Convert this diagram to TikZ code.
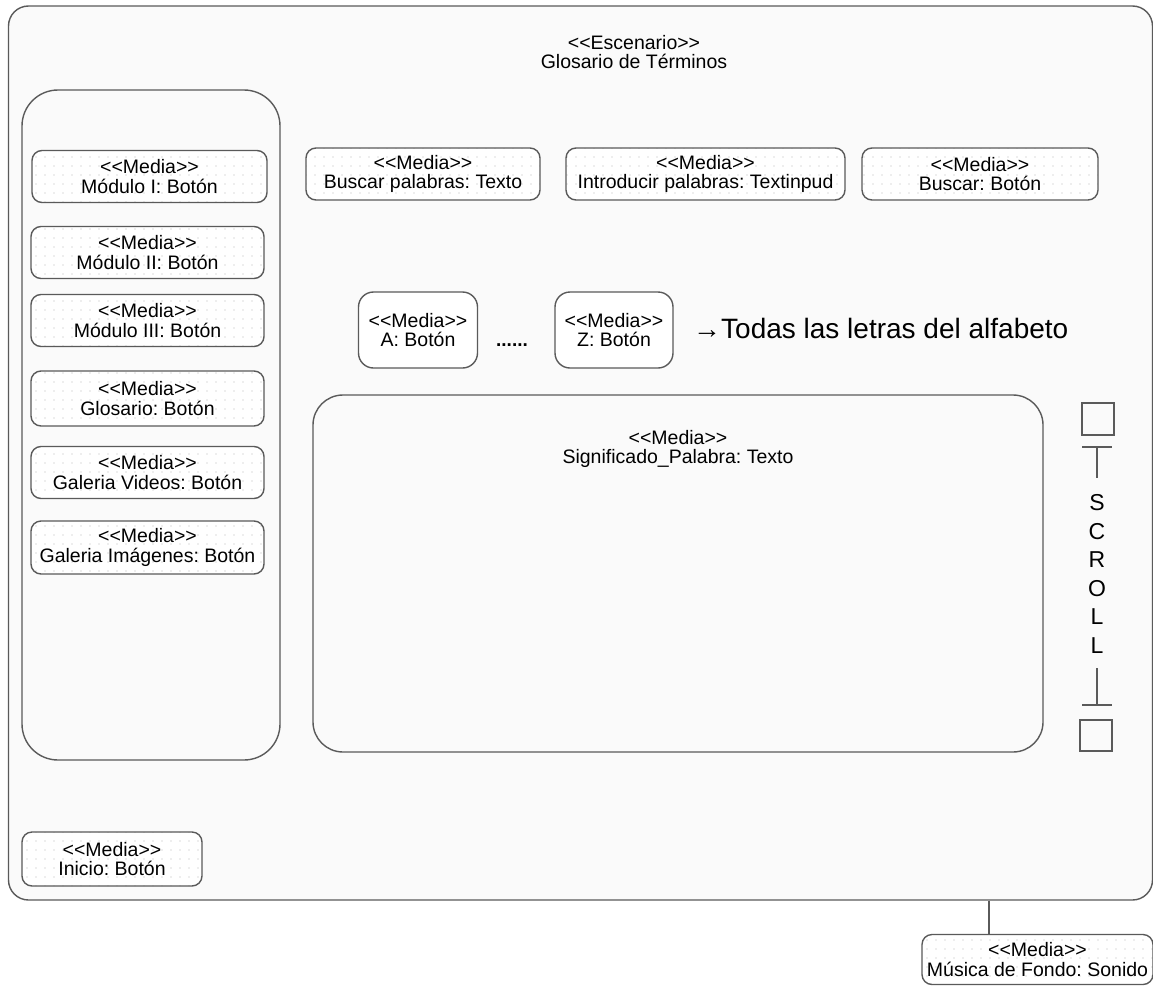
\documentclass[tikz,border=0pt]{standalone}
\usepackage{fontspec}
\setmainfont{Liberation Sans}[Ligatures=TeXOff]
\usetikzlibrary{patterns.meta}
\definecolor{edge}{HTML}{5A5A5A}
\definecolor{paper}{HTML}{FAFAFA}
\definecolor{dotc}{HTML}{B8B8B8}
\frenchspacing
\begin{document}
\begin{tikzpicture}[x=1pt,y=-1pt,
  every node/.style={inner sep=0pt,align=center,font=\fontsize{19.5}{19.5}\selectfont},
  panel/.style={draw=edge,line width=1.4pt,fill=paper},
  media/.style={draw=edge,line width=1.4pt,rounded corners=10pt,
    preaction={fill=white},
    pattern={Dots[distance=9pt,radius=0.55pt]},pattern color=dotc,
    minimum height=52pt},
  letterbtn/.style={draw=edge,line width=1.4pt,rounded corners=15pt,fill=white,
    minimum width=119pt,minimum height=76pt},
  scrollline/.style={draw=edge,line width=1.3pt}]
\useasboundingbox (0,0) rectangle (1153,985);
\fill[white] (0,0) rectangle (1153,985);

% scenario frame
\node[panel,rounded corners=20pt,minimum width=1144pt,minimum height=894pt] (frame) at (580.5,453) {};
\node (title) at (634,52) {<<Escenario>>\\Glosario de Términos};

% navigation column
\node[panel,rounded corners=36pt,minimum width=258pt,minimum height=670pt] (nav) at (151,425) {};
\node[media,minimum width=235pt] (mod1) at (149.5,176.5) {<<Media>>\\Módulo I: Botón};
\node[media,minimum width=233pt] (mod2) at (147.5,252.5) {<<Media>>\\Módulo II: Botón};
\node[media,minimum width=233pt] (mod3) at (147.5,320.5) {<<Media>>\\Módulo III: Botón};
\node[media,minimum width=233pt,minimum height=55pt] (glos) at (147.5,398.5) {<<Media>>\\Glosario: Botón};
\node[media,minimum width=233pt] (vids) at (147.5,472.5) {<<Media>>\\Galeria Videos: Botón};
\node[media,minimum width=233pt,minimum height=53pt] (imgs) at (147.5,547.5) {<<Media>>\\Galeria Imágenes: Botón};

% search bar
\node[media,minimum width=234pt] (buscartxt) at (423,174) {<<Media>>\\Buscar palabras: Texto};
\node[media,minimum width=279pt] (intro) at (705.5,174) {<<Media>>\\Introducir palabras: Textinpud};
\node[media,minimum width=236pt] (buscarbtn) at (980,174) {<<Media>>\\Buscar: Botón};

% alphabet buttons
\node[letterbtn] (btnA) at (418,330) {<<Media>>\\A: Botón};
\node[letterbtn,minimum width=118pt] (btnZ) at (614,330) {<<Media>>\\Z: Botón};
\node[font=\fontsize{19}{20}\selectfont\bfseries] (ellipsis) at (512,345) {......};
\node[anchor=west,font=\fontsize{28}{30}\selectfont] (alphanote) at (693,328) {→Todas las letras del alfabeto};

% meaning text area
\node[panel,rounded corners=30pt,minimum width=730pt,minimum height=357pt] (meaning) at (678,573.5) {};
\node (meaningtxt) at (678,449) {<<Media>>\\Significado\_Palabra: Texto};

% scroll bar
\draw[scrollline] (1082,403) rectangle (1114,435);
\draw[scrollline] (1082,447) -- (1112,447) (1097,447) -- (1097,478);
\node[font=\fontsize{23}{28.5}\selectfont] (scroll) at (1097,574) {S\\C\\R\\O\\L\\L};
\draw[scrollline] (1097,668) -- (1097,705) (1082,705) -- (1112,705);
\draw[scrollline] (1080,720) rectangle (1112,751);

% home button
\node[media,minimum width=180pt,minimum height=54pt] (inicio) at (112,859) {<<Media>>\\Inicio: Botón};

% background music
\node[media,minimum width=231pt,minimum height=50pt] (musica) at (1037.5,959.5) {<<Media>>\\Música de Fondo: Sonido};
\coordinate (musictop) at (989,934.5);
\draw[edge,line width=1.4pt] (frame.south -| musictop) -- (musictop);
\end{tikzpicture}
\end{document}
